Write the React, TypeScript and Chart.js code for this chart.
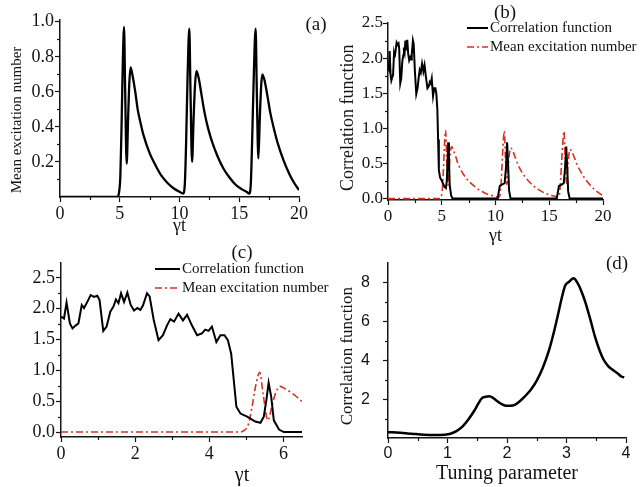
import React, { useEffect, useRef } from "react";
import { Chart, registerables } from "chart.js";

Chart.register(...registerables);

const SERIF = "'Liberation Serif', 'Times New Roman', serif";
const SANS = "'Liberation Sans', Arial, sans-serif";
const INK = "#141414";
const RED = "#d8321f";

// ---- Mean excitation number vs γt (panels a, b, c) ----
const meanT = [
  0, 4.8, 4.95, 5.05, 5.15, 5.25, 5.36, 5.45, 5.58, 5.7, 5.8, 5.91, 6.05, 6.3, 6.5, 6.75, 7.0, 7.5, 8.0, 8.5, 9.0, 9.5, 10.0, 10.3,
  10.45, 10.55, 10.68, 10.82, 10.92, 11.05, 11.18, 11.3, 11.42, 11.6, 11.85, 12.1, 12.4, 12.75, 13.2, 13.7, 14.2, 14.7, 15.2, 15.6, 15.85,
  15.97, 16.07, 16.22, 16.37, 16.47, 16.6, 16.72, 16.83, 16.93, 17.1, 17.35, 17.6, 17.9, 18.25, 18.7, 19.2, 19.6, 20.0,
];
const meanN = [
  0, 0, 0.03, 0.12, 0.4, 0.75, 0.97, 0.62, 0.19, 0.45, 0.65, 0.74, 0.7, 0.6, 0.5, 0.42, 0.35, 0.25, 0.18, 0.12, 0.08, 0.05, 0.03, 0.02,
  0.08, 0.3, 0.7, 0.96, 0.6, 0.2, 0.45, 0.64, 0.72, 0.68, 0.58, 0.48, 0.39, 0.31, 0.23, 0.16, 0.11, 0.07, 0.045, 0.03, 0.02,
  0.08, 0.3, 0.7, 0.96, 0.6, 0.22, 0.45, 0.63, 0.7, 0.67, 0.58, 0.48, 0.39, 0.3, 0.21, 0.13, 0.08, 0.04,
];

// ---- Correlation function vs γt (panels b, c) ----
const corrT = [
  0.0, 0.08, 0.15, 0.24, 0.31, 0.4, 0.47, 0.56, 0.62, 0.71, 0.8, 0.89, 0.98, 1.04, 1.14, 1.23, 1.33, 1.42, 1.48, 1.55, 1.62, 1.7, 1.79,
  1.88, 1.97, 2.06, 2.14, 2.21, 2.32, 2.39, 2.5, 2.63, 2.75, 2.86, 2.95, 3.05, 3.17, 3.29, 3.4, 3.53, 3.67, 3.8, 3.89, 3.98, 4.07, 4.19,
  4.3, 4.41, 4.5, 4.59, 4.66, 4.73, 4.84, 5.02, 5.24, 5.38, 5.47, 5.54, 5.6, 5.67, 5.74, 5.88, 6.01,
  10.2, 10.4, 10.6, 10.85, 10.98, 11.08, 11.17, 11.26, 11.4,
  15.7, 15.9, 16.15, 16.35, 16.48, 16.58, 16.67, 16.76, 16.9, 20.0,
];
const corrG = [
  1.87, 1.84, 2.1, 1.76, 1.68, 1.73, 1.76, 2.06, 2.01, 2.11, 2.22, 2.19, 2.21, 2.14, 1.64, 1.71, 1.95, 2.04, 2.15, 2.09, 2.25, 2.11, 2.26,
  2.06, 1.97, 2.01, 1.98, 2.05, 2.25, 2.2, 1.82, 1.49, 1.57, 1.73, 1.83, 1.79, 1.92, 1.81, 1.9, 1.73, 1.57, 1.6, 1.66, 1.64, 1.71, 1.46,
  1.57, 1.57, 1.49, 1.27, 0.84, 0.41, 0.3, 0.25, 0.17, 0.15, 0.25, 0.52, 0.8, 0.57, 0.19, 0.04, 0.0,
  0.0, 0.18, 0.2, 0.22, 0.45, 0.8, 0.5, 0.12, 0.0,
  0.0, 0.18, 0.2, 0.22, 0.45, 0.74, 0.45, 0.1, 0.0, 0.0,
];

// ---- Correlation function vs tuning parameter (panel d) ----
const tuneP = [
  0.0, 0.2, 0.4, 0.6, 0.8, 0.95, 1.05, 1.15, 1.25, 1.35, 1.45, 1.52, 1.58, 1.64, 1.7, 1.76, 1.82, 1.9, 1.98, 2.06, 2.14, 2.22, 2.3,
  2.4, 2.5, 2.6, 2.7, 2.78, 2.85, 2.92, 2.98, 3.05, 3.12, 3.18, 3.25, 3.32, 3.4, 3.48, 3.55, 3.62, 3.7, 3.78, 3.86, 3.93, 3.97,
];
const tuneG = [
  0.3, 0.27, 0.22, 0.17, 0.15, 0.17, 0.22, 0.35, 0.58, 0.95, 1.4, 1.78, 2.05, 2.12, 2.15, 2.08, 1.93, 1.76, 1.66, 1.66, 1.72, 1.9, 2.14,
  2.48, 2.95, 3.6, 4.45, 5.35, 6.25, 7.2, 7.85, 8.05, 8.22, 8.0, 7.55, 6.95, 6.1, 5.2, 4.55, 4.05, 3.7, 3.5, 3.32, 3.15, 3.12,
];

// ---- Tick values ----
const ticksTimeX = [0, 5, 10, 15, 20];
const minorTimeX = [2.5, 7.5, 12.5, 17.5];
const ticksA_Y = [0.2, 0.4, 0.6, 0.8, 1.0];
const minorA_Y = [0.1, 0.3, 0.5, 0.7, 0.9];
const ticksCorrY = [0, 0.5, 1.0, 1.5, 2.0, 2.5];
const minorCorrY = [0.25, 0.75, 1.25, 1.75, 2.25];
const ticksC_X = [0, 2, 4, 6];
const minorC_X = [1, 3, 5];
const ticksD_X = [0, 1, 2, 3, 4];
const minorD_X = [0.5, 1.5, 2.5, 3.5];
const ticksD_Y = [2, 4, 6, 8];
const minorD_Y = [1, 3, 5, 7];

const LABEL_CORR = "Correlation function";
const LABEL_MEAN = "Mean excitation number";

const pts = (xs: number[], ys: number[]) => xs.map((x, i) => ({ x, y: ys[i] }));

const minorTickPlugin = {
  id: "minorTicks",
  afterDraw(chart: any, _a: any, opts: any) {
    const ctx = chart.ctx;
    const area = chart.chartArea;
    ctx.save();
    ctx.strokeStyle = INK;
    ctx.lineWidth = 1.2;
    const xs = chart.scales.x;
    const ys = chart.scales.y;
    (opts.x || []).forEach((v: number) => {
      const p = Math.round(xs.getPixelForValue(v)) + 0.5;
      ctx.beginPath();
      ctx.moveTo(p, area.bottom);
      ctx.lineTo(p, area.bottom + 3);
      ctx.stroke();
    });
    (opts.y || []).forEach((v: number) => {
      const p = Math.round(ys.getPixelForValue(v)) + 0.5;
      ctx.beginPath();
      ctx.moveTo(area.left, p);
      ctx.lineTo(area.left - 3, p);
      ctx.stroke();
    });
    ctx.restore();
  },
};

const overlayPlugin = {
  id: "overlay",
  afterDraw(chart: any, _a: any, opts: any) {
    const ctx = chart.ctx;
    ctx.save();
    (opts.texts || []).forEach((t: any) => {
      ctx.font = `${t.weight || "normal"} ${t.size}px ${SERIF}`;
      ctx.fillStyle = INK;
      ctx.textAlign = "center";
      ctx.textBaseline = "middle";
      ctx.fillText(t.text, t.x, t.y);
    });
    const lg = opts.legend;
    if (lg) {
      chart.data.datasets.forEach((ds: any, i: number) => {
        const y = lg.ys[i];
        ctx.beginPath();
        ctx.strokeStyle = ds.borderColor;
        ctx.lineWidth = ds.borderWidth;
        ctx.setLineDash(ds.borderDash || []);
        ctx.moveTo(lg.x0, y);
        ctx.lineTo(lg.x1, y);
        ctx.stroke();
        ctx.setLineDash([]);
        ctx.font = `${lg.size}px ${SERIF}`;
        ctx.textAlign = "left";
        ctx.textBaseline = "middle";
        ctx.fillStyle = INK;
        ctx.fillText(ds.label, lg.tx, y);
      });
    }
    ctx.restore();
  },
};

type AxisOpts = {
  min: number;
  max: number;
  ticks: number[];
  size: number;
  font: any;
  pad: number;
  fmt: (v: number) => string;
  title?: { text: string; font: any; padTop?: number; padBottom?: number; align?: string };
};

function makeScale(o: AxisOpts) {
  return {
    type: "linear",
    min: o.min,
    max: o.max,
    afterBuildTicks: (s: any) => {
      s.ticks = o.ticks.map((v) => ({ value: v }));
    },
    afterFit: (s: any) => {
      if (s.isHorizontal()) s.height = o.size;
      else s.width = o.size;
    },
    border: { display: true, color: INK, width: 1.5 },
    grid: { display: true, drawOnChartArea: false, drawTicks: true, tickLength: 5, tickWidth: 1.2, color: INK },
    ticks: {
      color: INK,
      font: o.font,
      padding: o.pad,
      autoSkip: false,
      maxRotation: 0,
      minRotation: 0,
      callback: (v: any) => o.fmt(Number(v)),
    },
    title: o.title
      ? {
          display: true,
          text: o.title.text,
          color: INK,
          font: o.title.font,
          align: o.title.align || "center",
          padding: { top: o.title.padTop || 0, bottom: o.title.padBottom || 0 },
        }
      : { display: false },
  };
}

const f1 = (v: number) => v.toFixed(1);
const f0 = (v: number) => String(Math.round(v));
const serif = (size: number) => ({ family: SERIF, size, lineHeight: 1 });
const sans = (size: number) => ({ family: SANS, size, lineHeight: 1 });

function baseOptions(padding: any, scales: any, plugins: any) {
  return {
    responsive: false,
    animation: false,
    devicePixelRatio: 1,
    layout: { padding },
    elements: { point: { radius: 0 } },
    plugins: { legend: { display: false }, tooltip: { enabled: false }, ...plugins },
    scales,
  };
}

const corrDataset = () => ({
  label: LABEL_CORR,
  data: pts(corrT, corrG),
  borderColor: "#000000",
  borderWidth: 2,
  tension: 0,
  pointRadius: 0,
  fill: false,
});
const meanDataset = (dash: number[]) => ({
  label: LABEL_MEAN,
  data: pts(meanT, meanN),
  borderColor: RED,
  borderWidth: 1.6,
  borderDash: dash,
  cubicInterpolationMode: "monotone",
  pointRadius: 0,
  fill: false,
});

function makeA(canvas: HTMLCanvasElement) {
  return new Chart(canvas, {
    type: "line",
    data: {
      datasets: [
        {
          label: LABEL_MEAN,
          data: pts(meanT, meanN),
          borderColor: "#000000",
          borderWidth: 2.3,
          cubicInterpolationMode: "monotone",
          pointRadius: 0,
          fill: false,
        },
      ],
    },
    options: baseOptions(
      { left: 0, right: 41, top: 20, bottom: 0 },
      {
        x: makeScale({ min: 0, max: 20, ticks: ticksTimeX, size: 43, font: serif(18), pad: 3, fmt: f0, title: { text: "γt", font: serif(18), padBottom: 5 } }),
        y: makeScale({ min: 0, max: 1.01, ticks: ticksA_Y, size: 60, font: serif(18), pad: 1, fmt: f1, title: { text: " Mean excitation number", font: serif(15), padTop: 10, align: "start" } }),
      },
      {
        minorTicks: { x: minorTimeX, y: minorA_Y },
        overlay: { texts: [{ text: "(a)", x: 316, y: 25, size: 19 }] },
      }
    ),
    plugins: [minorTickPlugin, overlayPlugin],
  } as any);
}

function makeB(canvas: HTMLCanvasElement) {
  return new Chart(canvas, {
    type: "line",
    data: { datasets: [corrDataset(), meanDataset([7, 3, 2, 3])] },
    options: baseOptions(
      { left: 0, right: 38, top: 23, bottom: 0 },
      {
        x: makeScale({ min: 0, max: 20, ticks: ticksTimeX, size: 50, font: serif(17), pad: 3, fmt: f0, title: { text: "γt", font: serif(18), padBottom: 5 } }),
        y: makeScale({ min: -0.02, max: 2.5, ticks: ticksCorrY, size: 68, font: serif(17), pad: 0, fmt: f1, title: { text: "  Correlation function", font: serif(18), padTop: 19, align: "start" } }),
      },
      {
        minorTicks: { x: minorTimeX, y: minorCorrY },
        overlay: {
          texts: [{ text: "(b)", x: 185, y: 13, size: 19 }],
          legend: { x0: 147, x1: 168, tx: 170, ys: [28, 47], size: 15 },
        },
      }
    ),
    plugins: [minorTickPlugin, overlayPlugin],
  } as any);
}

function makeC(canvas: HTMLCanvasElement) {
  return new Chart(canvas, {
    type: "line",
    data: { datasets: [corrDataset(), meanDataset([7, 3, 2, 3])] },
    options: baseOptions(
      { left: 0, right: 38, top: 23, bottom: 0 },
      {
        x: makeScale({ min: 0, max: 6.5, ticks: ticksC_X, size: 50, font: serif(18), pad: 3, fmt: f0 }),
        y: makeScale({ min: -0.08, max: 2.74, ticks: ticksCorrY, size: 61, font: serif(18), pad: 1, fmt: f1 }),
      },
      {
        minorTicks: { x: minorC_X, y: minorCorrY },
        overlay: {
          texts: [
            { text: "(c)", x: 242, y: 13, size: 19 },
            { text: "γt", x: 242, y: 236, size: 20 },
          ],
          legend: { x0: 155, x1: 180, tx: 182, ys: [29, 48], size: 15 },
        },
      }
    ),
    plugins: [minorTickPlugin, overlayPlugin],
  } as any);
}

function makeD(canvas: HTMLCanvasElement) {
  return new Chart(canvas, {
    type: "line",
    data: {
      datasets: [
        {
          label: LABEL_CORR,
          data: pts(tuneP, tuneG),
          borderColor: "#000000",
          borderWidth: 2.5,
          cubicInterpolationMode: "monotone",
          pointRadius: 0,
          fill: false,
        },
      ],
    },
    options: baseOptions(
      { left: 0, right: 15, top: 23, bottom: 0 },
      {
        x: makeScale({ min: 0, max: 4, ticks: ticksD_X, size: 49, font: sans(16), pad: 3, fmt: f0, title: { text: "Tuning parameter", font: serif(20), padBottom: 3 } }),
        y: makeScale({ min: 0, max: 9, ticks: ticksD_Y, size: 68, font: sans(16), pad: 13, fmt: f0, title: { text: "   Correlation function", font: serif(17), padTop: 19.5, align: "start" } }),
      },
      {
        minorTicks: { x: minorD_X, y: minorD_Y },
        overlay: { texts: [{ text: "(d)", x: 297, y: 24, size: 19 }] },
      }
    ),
    plugins: [minorTickPlugin, overlayPlugin],
  } as any);
}

function Panel(props: { make: (c: HTMLCanvasElement) => Chart; left: number; top: number; width: number; height: number }) {
  const ref = useRef<HTMLCanvasElement>(null);
  useEffect(() => {
    const chart = props.make(ref.current as HTMLCanvasElement);
    return () => chart.destroy();
  }, []);
  return (
    <canvas
      ref={ref}
      width={props.width}
      height={props.height}
      style={{ position: "absolute", left: props.left, top: props.top, width: props.width, height: props.height }}
    />
  );
}

export default function App() {
  return (
    <div style={{ position: "absolute", left: 0, top: 0, width: 641, height: 487, background: "#ffffff", overflow: "hidden" }}>
      <Panel make={makeA} left={0} top={0} width={340} height={240} />
      <Panel make={makeB} left={320} top={0} width={321} height={250} />
      <Panel make={makeC} left={0} top={240} width={340} height={247} />
      <Panel make={makeD} left={320} top={240} width={321} height={247} />
    </div>
  );
}
